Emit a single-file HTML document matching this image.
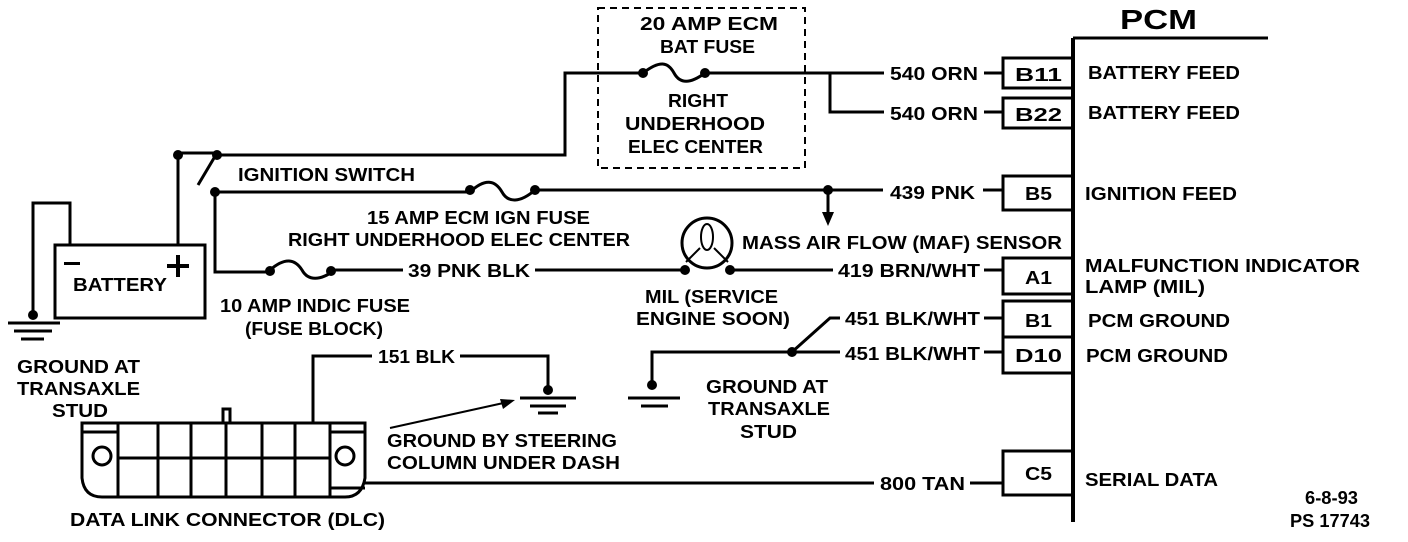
<!DOCTYPE html>
<html><head><style>
html,body{margin:0;padding:0;background:#fff;}
svg{display:block;}
text{font-family:"Liberation Sans",sans-serif;font-weight:bold;font-size:18px;fill:#000;}
</style></head><body>
<svg width="1408" height="542" viewBox="0 0 1408 542" xmlns="http://www.w3.org/2000/svg">
<g stroke="#000" stroke-width="3" fill="none">
<line x1="1073" y1="38" x2="1073" y2="522" stroke-width="4"/>
<line x1="1073" y1="38" x2="1268" y2="38" stroke-width="3"/>
<rect x="1003" y="58" width="70" height="30" stroke-width="3"/>
<rect x="1003" y="98" width="70" height="30" stroke-width="3"/>
<rect x="1003" y="176" width="70" height="34" stroke-width="3"/>
<rect x="1003" y="258" width="70" height="36" stroke-width="3"/>
<rect x="1003" y="301" width="70" height="36" stroke-width="3"/>
<rect x="1003" y="337" width="70" height="36" stroke-width="3"/>
<rect x="1003" y="451" width="70" height="44" stroke-width="3"/>
<rect x="598" y="8" width="207" height="160" stroke-dasharray="7,5" stroke-width="2"/>
<polyline points="217,155 565,155 565,73 643,73"/>
<path d="M643,73 C660,60 668,62 674,73 C680,84 690,84 705,73"/>
<line x1="705" y1="73" x2="884" y2="73"/>
<line x1="984" y1="73" x2="1003" y2="73"/>
<polyline points="830,73 830,112 884,112"/>
<line x1="984" y1="112" x2="1003" y2="112"/>
<line x1="178" y1="153" x2="217" y2="153"/>
<line x1="217" y1="153" x2="198" y2="185"/>
<line x1="178" y1="153" x2="178" y2="245"/>
<line x1="215" y1="192" x2="470" y2="192"/>
<path d="M470,192 C485,178 495,180 502,192 C508,203 520,203 535,190"/>
<line x1="535" y1="190" x2="883" y2="190"/>
<line x1="983" y1="190" x2="1003" y2="190"/>
<line x1="828" y1="190" x2="828" y2="215"/>
<polyline points="215,192 215,272 270,272"/>
<path d="M270,270 C285,257 295,259 302,270 C308,281 320,281 335,270"/>
<line x1="335" y1="270" x2="403" y2="270"/>
<line x1="535" y1="270" x2="685" y2="270"/>
<circle cx="707" cy="243" r="25"/>
<ellipse cx="707" cy="237" rx="6" ry="13" stroke-width="2"/>
<path d="M700,248 L686,262 M714,248 L728,262" stroke-width="2"/>
<line x1="730" y1="270" x2="833" y2="270"/>
<line x1="984" y1="270" x2="1003" y2="270"/>
<polyline points="792,352 830,318 840,318"/>
<line x1="984" y1="318" x2="1003" y2="318"/>
<polyline points="652,385 652,352 840,352"/>
<line x1="984" y1="352" x2="1003" y2="352"/>
<line x1="628" y1="398" x2="680" y2="398"/>
<line x1="641" y1="406" x2="668" y2="406"/>
<rect x="55" y="245" width="150" height="73" stroke-width="3"/>
<polyline points="70,245 70,203 33,203 33,315"/>
<line x1="8" y1="323" x2="60" y2="323"/>
<line x1="14" y1="331" x2="52" y2="331"/>
<line x1="21" y1="339" x2="44" y2="339"/>
<polyline points="313,422 313,356 372,356"/>
<polyline points="460,356 548,356 548,390"/>
<line x1="520" y1="398" x2="576" y2="398"/>
<line x1="530" y1="406" x2="566" y2="406"/>
<line x1="538" y1="413" x2="558" y2="413"/>
<line x1="390" y1="428" x2="508" y2="402" stroke-width="2"/>
<path d="M82,423 L365,423 L365,478 Q362,497 345,497 L102,497 Q84,497 82,478 Z" stroke-width="3"/>
<line x1="82" y1="432" x2="118" y2="432"/>
<line x1="330" y1="432" x2="365" y2="432"/>
<line x1="118" y1="423" x2="118" y2="497"/>
<line x1="330" y1="423" x2="330" y2="497"/>
<line x1="118" y1="458" x2="330" y2="458"/>
<line x1="158" y1="423" x2="158" y2="497"/>
<line x1="191" y1="423" x2="191" y2="497"/>
<line x1="226" y1="423" x2="226" y2="497"/>
<line x1="262" y1="423" x2="262" y2="497"/>
<line x1="295" y1="423" x2="295" y2="497"/>
<rect x="223" y="409" width="7" height="14"/>
<circle cx="102" cy="456" r="9"/>
<circle cx="345" cy="456" r="9"/>
<line x1="330" y1="488" x2="365" y2="488"/>
<line x1="365" y1="483" x2="874" y2="483"/>
<line x1="970" y1="483" x2="1003" y2="483"/>
</g>
<g fill="#000">
<circle cx="178" cy="155" r="5"/><circle cx="217" cy="155" r="5"/><circle cx="215" cy="192" r="5"/>
<circle cx="643" cy="73" r="5"/><circle cx="705" cy="73" r="5"/>
<circle cx="470" cy="190" r="5"/><circle cx="535" cy="190" r="5"/><circle cx="828" cy="190" r="5"/>
<polygon points="822,212 834,212 828,226"/>
<circle cx="270" cy="271" r="5"/><circle cx="331" cy="271" r="5"/>
<circle cx="685" cy="270" r="5"/><circle cx="730" cy="270" r="5"/>
<circle cx="792" cy="352" r="5"/><circle cx="652" cy="385" r="5"/>
<circle cx="33" cy="315" r="5"/><circle cx="548" cy="390" r="5"/>
<polygon points="515,400 500,399 503,409"/>
<rect x="64" y="262" width="16" height="3"/>
<rect x="167" y="264" width="22" height="4"/><rect x="176" y="255" width="4" height="22"/>
</g>
<g lengthAdjust="spacingAndGlyphs">
<text x="1120" y="29" style="font-size:28px" textLength="77" lengthAdjust="spacingAndGlyphs">PCM</text>
<text x="640" y="30" textLength="138" lengthAdjust="spacingAndGlyphs">20 AMP ECM</text>
<text x="660" y="53" textLength="95" lengthAdjust="spacingAndGlyphs">BAT FUSE</text>
<text x="668" y="107" textLength="60" lengthAdjust="spacingAndGlyphs">RIGHT</text>
<text x="625" y="130" textLength="140" lengthAdjust="spacingAndGlyphs">UNDERHOOD</text>
<text x="628" y="153" textLength="135" lengthAdjust="spacingAndGlyphs">ELEC CENTER</text>
<text x="890" y="80" textLength="88" lengthAdjust="spacingAndGlyphs">540 ORN</text>
<text x="890" y="120" textLength="88" lengthAdjust="spacingAndGlyphs">540 ORN</text>
<text x="1015" y="81" textLength="47" lengthAdjust="spacingAndGlyphs">B11</text>
<text x="1015" y="121" textLength="47" lengthAdjust="spacingAndGlyphs">B22</text>
<text x="1025" y="200" textLength="27" lengthAdjust="spacingAndGlyphs">B5</text>
<text x="1025" y="284" textLength="27" lengthAdjust="spacingAndGlyphs">A1</text>
<text x="1025" y="327" textLength="27" lengthAdjust="spacingAndGlyphs">B1</text>
<text x="1015" y="362" textLength="47" lengthAdjust="spacingAndGlyphs">D10</text>
<text x="1025" y="480" textLength="27" lengthAdjust="spacingAndGlyphs">C5</text>
<text x="1088" y="79" textLength="152" lengthAdjust="spacingAndGlyphs">BATTERY FEED</text>
<text x="1088" y="119" textLength="152" lengthAdjust="spacingAndGlyphs">BATTERY FEED</text>
<text x="1085" y="200" textLength="152" lengthAdjust="spacingAndGlyphs">IGNITION FEED</text>
<text x="1085" y="272" textLength="275" lengthAdjust="spacingAndGlyphs">MALFUNCTION INDICATOR</text>
<text x="1085" y="293" textLength="120" lengthAdjust="spacingAndGlyphs">LAMP  (MIL)</text>
<text x="1088" y="327" textLength="142" lengthAdjust="spacingAndGlyphs">PCM GROUND</text>
<text x="1086" y="362" textLength="142" lengthAdjust="spacingAndGlyphs">PCM GROUND</text>
<text x="1085" y="486" textLength="133" lengthAdjust="spacingAndGlyphs">SERIAL DATA</text>
<text x="238" y="181" textLength="177" lengthAdjust="spacingAndGlyphs">IGNITION SWITCH</text>
<text x="367" y="224" textLength="223" lengthAdjust="spacingAndGlyphs">15 AMP ECM IGN FUSE</text>
<text x="288" y="246" textLength="342" lengthAdjust="spacingAndGlyphs">RIGHT UNDERHOOD ELEC CENTER</text>
<text x="890" y="199" textLength="85" lengthAdjust="spacingAndGlyphs">439 PNK</text>
<text x="742" y="249" textLength="320" lengthAdjust="spacingAndGlyphs">MASS AIR FLOW (MAF) SENSOR</text>
<text x="408" y="277" textLength="122" lengthAdjust="spacingAndGlyphs">39 PNK BLK</text>
<text x="838" y="277" textLength="142" lengthAdjust="spacingAndGlyphs">419 BRN/WHT</text>
<text x="220" y="312" textLength="190" lengthAdjust="spacingAndGlyphs">10 AMP INDIC FUSE</text>
<text x="245" y="335" textLength="138" lengthAdjust="spacingAndGlyphs">(FUSE BLOCK)</text>
<text x="645" y="303" textLength="133" lengthAdjust="spacingAndGlyphs">MIL (SERVICE</text>
<text x="636" y="325" textLength="154" lengthAdjust="spacingAndGlyphs">ENGINE SOON)</text>
<text x="845" y="325" textLength="135" lengthAdjust="spacingAndGlyphs">451 BLK/WHT</text>
<text x="845" y="360" textLength="135" lengthAdjust="spacingAndGlyphs">451 BLK/WHT</text>
<text x="73" y="291" textLength="94" lengthAdjust="spacingAndGlyphs">BATTERY</text>
<text x="17" y="373" textLength="123" lengthAdjust="spacingAndGlyphs">GROUND AT</text>
<text x="17" y="395" textLength="123" lengthAdjust="spacingAndGlyphs">TRANSAXLE</text>
<text x="52" y="417" textLength="56" lengthAdjust="spacingAndGlyphs">STUD</text>
<text x="378" y="363" textLength="77" lengthAdjust="spacingAndGlyphs">151 BLK</text>
<text x="706" y="393" textLength="122" lengthAdjust="spacingAndGlyphs">GROUND AT</text>
<text x="708" y="415" textLength="122" lengthAdjust="spacingAndGlyphs">TRANSAXLE</text>
<text x="740" y="438" textLength="57" lengthAdjust="spacingAndGlyphs">STUD</text>
<text x="387" y="447" textLength="230" lengthAdjust="spacingAndGlyphs">GROUND BY STEERING</text>
<text x="387" y="469" textLength="233" lengthAdjust="spacingAndGlyphs">COLUMN UNDER DASH</text>
<text x="880" y="490" textLength="85" lengthAdjust="spacingAndGlyphs">800 TAN</text>
<text x="70" y="526" textLength="315" lengthAdjust="spacingAndGlyphs">DATA LINK CONNECTOR (DLC)</text>
<text x="1305" y="504" textLength="53" lengthAdjust="spacingAndGlyphs">6-8-93</text>
<text x="1290" y="527" textLength="80" lengthAdjust="spacingAndGlyphs">PS 17743</text>
</g>
</svg>
</body></html>
